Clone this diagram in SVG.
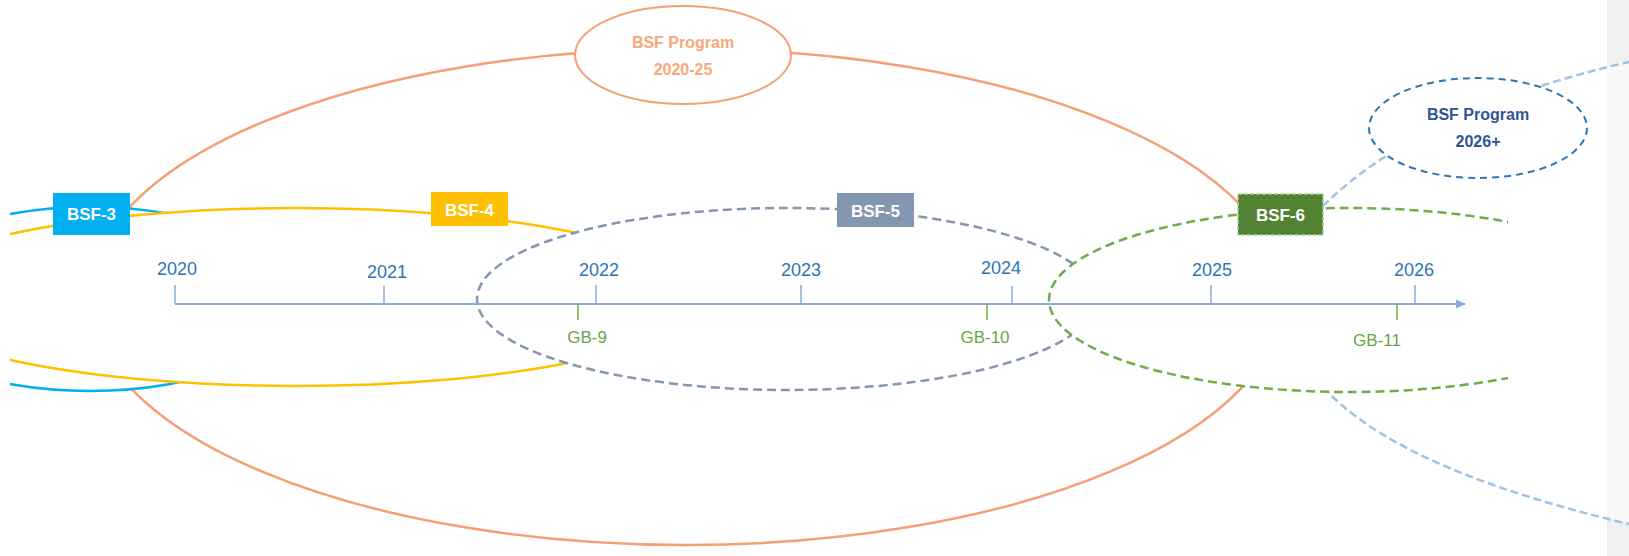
<svg xmlns="http://www.w3.org/2000/svg" width="1629" height="556" viewBox="0 0 1629 556">
  <style>
    .loop { stroke-width: 2.5; fill: #ffffff; }
    .dash { stroke-dasharray: 9 5; }
    .box-label { font-family: "Liberation Sans", Arial, sans-serif; font-weight: bold; font-size: 17px; fill: #ffffff; text-anchor: middle; }
    .prog-label { font-family: "Liberation Sans", Arial, sans-serif; font-weight: bold; font-size: 16px; text-anchor: middle; }
    .year { font-family: "Liberation Sans", Arial, sans-serif; font-size: 18px; fill: #2E75B6; text-anchor: middle; }
    .gb { font-family: "Liberation Sans", Arial, sans-serif; font-size: 17px; fill: #6AA544; text-anchor: middle; }
    .ytick { stroke: #8FAADC; stroke-width: 1.5; }
    .gtick { stroke: #70AD47; stroke-width: 1.5; }
  </style>
  <defs>
    <clipPath id="clip-left">
      <rect x="10" y="0" width="1619" height="556"/>
    </clipPath>
    <clipPath id="clip-green">
      <rect x="0" y="0" width="1508" height="556"/>
    </clipPath>
    <marker id="arrow" markerWidth="10" markerHeight="10" refX="9" refY="5" orient="auto" markerUnits="userSpaceOnUse">
      <path d="M0,0.5 L10,5 L0,9.5 Z" fill="#8FAADC"/>
    </marker>
  </defs>

  <rect width="1629" height="556" fill="#ffffff"/>
  <!-- side panel at the right edge -->
  <rect x="1607" y="0" width="22" height="556" fill="#F0F0F0"/>

  <!-- programme loops, back to front -->
  <g id="connectors">
    <ellipse id="loop-program-2020-25" class="loop" cx="686" cy="297" rx="597" ry="248" stroke="#F5A074"/>
    <g clip-path="url(#clip-left)">
      <ellipse id="loop-bsf3" class="loop" cx="90" cy="299" rx="210" ry="92" stroke="#00B0F0"/>
      <ellipse id="loop-bsf4" class="loop" cx="296" cy="297" rx="404" ry="89" stroke="#FFC000"/>
    </g>
    <ellipse id="loop-bsf5" class="loop dash" cx="787" cy="299" rx="310" ry="91" stroke="#8497B0"/>
    <path id="loop-program-2026" class="loop" stroke="#9DC3E6" stroke-width="3" stroke-dasharray="8 4" fill-opacity="0.6"
          d="M1323,206 Q1420,110 1629,62 L1700,50 L1700,540 L1629,524 Q1400,470 1325,389 Q1240,300 1323,206 Z"/>
    <g clip-path="url(#clip-green)">
      <ellipse id="loop-bsf6" class="loop dash" cx="1349" cy="300" rx="300" ry="92" stroke="#70AD47"/>
    </g>
  </g>

  <!-- programme bubbles -->
  <g id="program-2020-25">
    <ellipse cx="683" cy="55" rx="108" ry="49" fill="#ffffff" stroke="#F5A074" stroke-width="2"/>
    <text class="prog-label" x="683" y="48" fill="#F8A878">BSF Program</text>
    <text class="prog-label" x="683" y="75" fill="#F8A878">2020-25</text>
  </g>
  <g id="program-2026">
    <ellipse cx="1478" cy="128" rx="109" ry="50" fill="#ffffff" stroke="#2E75B6" stroke-width="2" stroke-dasharray="7 5"/>
    <text class="prog-label" x="1478" y="120" fill="#2F5597">BSF Program</text>
    <text class="prog-label" x="1478" y="147" fill="#2F5597">2026+</text>
  </g>

  <!-- time axis -->
  <g id="timeline">
    <line x1="175" y1="304" x2="1465" y2="304" stroke="#8FAADC" stroke-width="2" marker-end="url(#arrow)"/>
    <line class="ytick" x1="175" y1="285" x2="175" y2="304"/>
    <line class="ytick" x1="384" y1="286" x2="384" y2="304"/>
    <line class="ytick" x1="596" y1="285" x2="596" y2="304"/>
    <line class="ytick" x1="801" y1="285" x2="801" y2="304"/>
    <line class="ytick" x1="1012" y1="286" x2="1012" y2="304"/>
    <line class="ytick" x1="1211" y1="285" x2="1211" y2="304"/>
    <line class="ytick" x1="1415" y1="285" x2="1415" y2="304"/>
    <text class="year" x="177" y="275">2020</text>
    <text class="year" x="387" y="278">2021</text>
    <text class="year" x="599" y="276">2022</text>
    <text class="year" x="801" y="276">2023</text>
    <text class="year" x="1001" y="274">2024</text>
    <text class="year" x="1212" y="276">2025</text>
    <text class="year" x="1414" y="276">2026</text>
  </g>

  <!-- general board milestones -->
  <g id="gb-9">
    <line class="gtick" x1="578" y1="304" x2="578" y2="320"/>
    <text class="gb" x="587" y="343">GB-9</text>
  </g>
  <g id="gb-10">
    <line class="gtick" x1="987" y1="304" x2="987" y2="320"/>
    <text class="gb" x="985" y="343">GB-10</text>
  </g>
  <g id="gb-11">
    <line class="gtick" x1="1397" y1="304" x2="1397" y2="320"/>
    <text class="gb" x="1377" y="346">GB-11</text>
  </g>

  <!-- phase boxes -->
  <g id="bsf-3">
    <rect x="53" y="193" width="77" height="42" fill="#00B0F0"/>
    <text class="box-label" x="91.5" y="220">BSF-3</text>
  </g>
  <g id="bsf-4">
    <rect x="431" y="192" width="77" height="34" fill="#FFC000"/>
    <text class="box-label" x="469.5" y="216">BSF-4</text>
  </g>
  <g id="bsf-5">
    <rect x="837" y="193" width="77" height="34" fill="#8497B0"/>
    <text class="box-label" x="875.5" y="217">BSF-5</text>
  </g>
  <g id="bsf-6">
    <rect x="1238" y="194" width="85" height="41" fill="#548235" stroke="#A9D18E" stroke-width="1.5" stroke-dasharray="4 2"/>
    <text class="box-label" x="1280.5" y="221">BSF-6</text>
  </g>
</svg>
